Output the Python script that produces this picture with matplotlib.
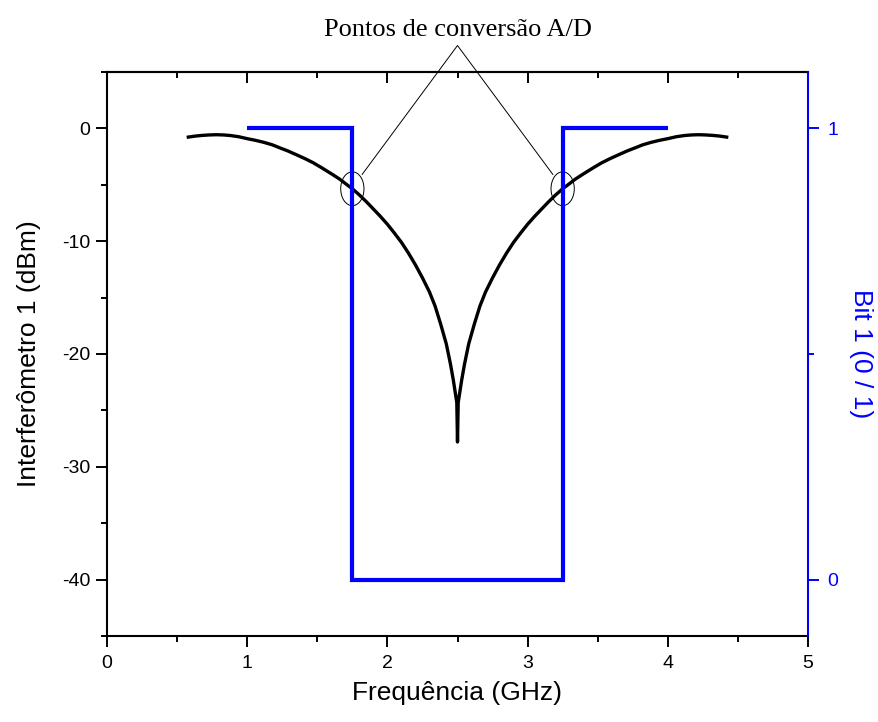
import matplotlib
matplotlib.use("Agg")
import matplotlib.pyplot as plt
from matplotlib.patches import Ellipse
from matplotlib.ticker import MultipleLocator

# Interferometer 1 output power (dBm) versus frequency (GHz)
freq_ghz = [0.58, 0.63, 0.68, 0.73, 0.78, 0.83, 0.88, 0.94, 1.00, 1.06,
            1.12, 1.18, 1.23, 1.29, 1.35, 1.41, 1.47, 1.53, 1.60, 1.66,
            1.71, 1.75, 1.80, 1.85, 1.90, 1.95, 2.00, 2.05, 2.10, 2.15,
            2.20, 2.25, 2.30, 2.34, 2.38, 2.42, 2.45, 2.47, 2.485, 2.495,
            2.50,
            2.505, 2.515, 2.53, 2.55, 2.58, 2.62, 2.66, 2.70, 2.75, 2.80,
            2.85, 2.90, 2.95, 3.00, 3.05, 3.10, 3.15, 3.20, 3.25, 3.29,
            3.34, 3.40, 3.47, 3.53, 3.59, 3.65, 3.71, 3.77, 3.82, 3.88,
            3.94, 4.00, 4.06, 4.12, 4.17, 4.22, 4.27, 4.32, 4.37, 4.42]
power_dbm = [-0.77, -0.68, -0.62, -0.58, -0.56, -0.58, -0.63, -0.74, -0.91, -1.06,
             -1.24, -1.46, -1.71, -2.00, -2.33, -2.67, -3.04, -3.48, -4.02, -4.50,
             -4.98, -5.35, -5.90, -6.50, -7.15, -7.80, -8.50, -9.28, -10.10, -11.05,
             -12.10, -13.25, -14.50, -15.75, -17.35, -19.10, -20.90, -22.30, -23.50, -24.30,
             -27.80,
             -24.30, -23.50, -22.30, -20.90, -19.10, -17.35, -15.75, -14.50, -13.25, -12.10,
             -11.05, -10.10, -9.28, -8.50, -7.80, -7.15, -6.50, -5.90, -5.35, -4.98,
             -4.50, -4.02, -3.48, -3.04, -2.67, -2.33, -2.00, -1.71, -1.46, -1.24,
             -1.06, -0.91, -0.74, -0.63, -0.58, -0.56, -0.58, -0.62, -0.68, -0.77]

# Digitised bit (0 / 1)
bit_freq = [1.00, 1.75, 1.75, 3.25, 3.25, 4.00]
bit_value = [1, 1, 0, 0, 1, 1]

# A/D conversion points marked on the curve
ad_freq = [1.75, 3.25]
ad_power = [-5.35, -5.35]

x_ticks = [0, 1, 2, 3, 4, 5]
left_ticks = [0, -10, -20, -30, -40]
right_ticks = [0, 1]

plt.rcParams["font.family"] = ["Liberation Sans", "DejaVu Sans"]
plt.rcParams["axes.unicode_minus"] = False

BLUE = "#0000ff"
TICK_FS = 14
LABEL_FS = 19

fig = plt.figure(figsize=(8.79, 7.22), dpi=100)
ax = fig.add_axes([107 / 879, 1 - 636 / 722, 701 / 879, 564 / 722])
ax2 = ax.twinx()

ax.plot(freq_ghz, power_dbm, color="black", lw=2.4, solid_joinstyle="round", zorder=3)
ax2.plot(bit_freq, bit_value, color=BLUE, lw=3.0,
         solid_joinstyle="miter", solid_capstyle="butt", zorder=2)

ax.set_xlim(0, 5)
ax.set_ylim(-45, 5)
ax2.set_ylim(-0.125, 1.125)

ax.set_xticks(x_ticks)
ax.set_yticks(left_ticks)
ax2.set_yticks(right_ticks)
ax.xaxis.set_minor_locator(MultipleLocator(0.5))
ax.yaxis.set_minor_locator(MultipleLocator(5))
ax2.yaxis.set_minor_locator(MultipleLocator(0.5))

ax.tick_params(axis="both", which="both", direction="out", width=1.4,
               labelsize=TICK_FS, top=False, right=False)
ax.tick_params(axis="both", which="major", length=8)
ax.tick_params(axis="both", which="minor", length=4.5)
ax.tick_params(axis="x", which="major", pad=6)
ax.tick_params(axis="y", which="major", pad=4)

# mirrored top axis with ticks pointing into the plot
top = ax.secondary_xaxis("top")
top.set_xticks(x_ticks)
top.xaxis.set_minor_locator(MultipleLocator(0.5))
top.tick_params(axis="x", which="both", direction="in", width=1.4, labeltop=False)
top.tick_params(axis="x", which="major", length=8)
top.tick_params(axis="x", which="minor", length=4.5)
top.spines["top"].set_linewidth(1.5)

ax2.tick_params(axis="y", which="both", direction="out", width=1.4, colors=BLUE,
                labelsize=TICK_FS, pad=6)
ax2.tick_params(axis="y", which="major", length=8)
ax2.tick_params(axis="y", which="minor", length=4.5)

for side in ["left", "bottom", "top"]:
    ax.spines[side].set_linewidth(1.5)
ax.spines["right"].set_visible(False)
for side in ["left", "top", "bottom"]:
    ax2.spines[side].set_visible(False)
ax2.spines["right"].set_color(BLUE)
ax2.spines["right"].set_linewidth(1.5)

ax.set_xlabel("Frequência (GHz)", fontsize=LABEL_FS, labelpad=6)
ax.set_ylabel("Interferômetro 1 (dBm)", fontsize=LABEL_FS, labelpad=15)
ax2.set_ylabel("Bit 1 (0 / 1)", fontsize=LABEL_FS, color=BLUE, rotation=-90, labelpad=25)

# ellipses around the conversion points and the callout
for fx, py in zip(ad_freq, ad_power):
    ax.add_patch(Ellipse((fx, py), 0.166, 3.0, fill=False, ec="black", lw=0.7, zorder=4))
apex = (2.5, 7.35)
ax.plot([ad_freq[0] + 0.07, apex[0], ad_freq[1] - 0.07],
        [ad_power[0] + 1.27, apex[1], ad_power[1] + 1.27],
        color="black", lw=0.7, clip_on=False, zorder=4)
ax.text(2.5, 8.75, "Pontos de conversão A/D", ha="center", va="center",
        fontsize=19, family=["Liberation Serif", "DejaVu Serif"])

fig.savefig("out.png", dpi=100)
